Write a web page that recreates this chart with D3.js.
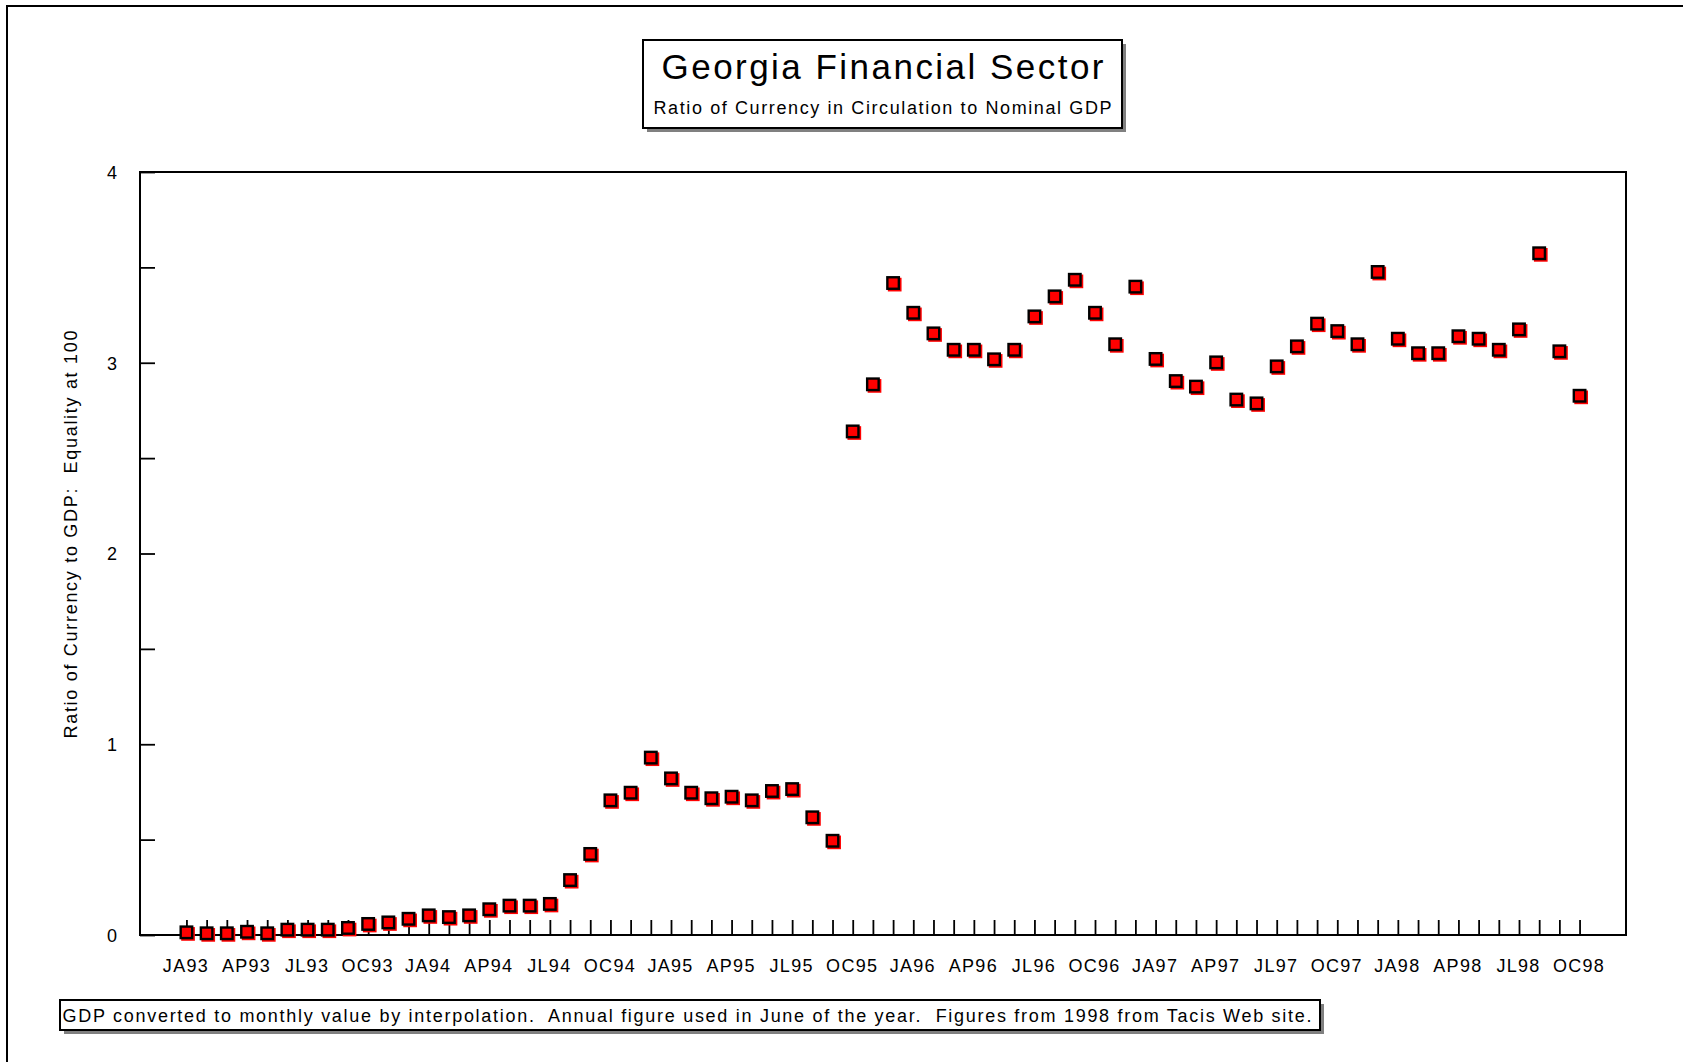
<!DOCTYPE html>
<html>
<head>
<meta charset="utf-8">
<script src="https://cdn.jsdelivr.net/npm/d3@7"></script>
<style>
  html, body { margin: 0; padding: 0; background: #fff; }
  svg { display: block; }
  text { font-family: "Liberation Sans", Arial, Helvetica, sans-serif; fill: #000; }
</style>
</head>
<body>
<svg id="chart" width="1683" height="1062"></svg>
<script>
// ---- data ----
const monthCodes = ["JA","FE","MR","AP","MY","JN","JL","AU","SE","OC","NO","DE"];
const years = ["93","94","95","96","97","98"];
const categories = years.flatMap(y => monthCodes.map(m => m + y)).slice(0, 70); // JA93 .. OC98

const ratioValues = [
  0.014, 0.009, 0.009, 0.017, 0.009, 0.028, 0.028, 0.028, 0.037, 0.058, 0.066, 0.085,
  0.103, 0.094, 0.103, 0.135, 0.154, 0.154, 0.163, 0.288, 0.425, 0.706, 0.746, 0.930,
  0.821, 0.746, 0.717, 0.725, 0.706, 0.755, 0.765, 0.617, 0.494, 2.640, 2.887, 3.418,
  3.262, 3.154, 3.068, 3.068, 3.018, 3.068, 3.243, 3.348, 3.435, 3.262, 3.097, 3.399,
  3.020, 2.904, 2.875, 3.002, 2.807, 2.787, 2.981, 3.086, 3.205, 3.166, 3.097, 3.476,
  3.126, 3.050, 3.050, 3.139, 3.126, 3.068, 3.175, 3.574, 3.060, 2.827
];

const xTickLabels = ["JA93","AP93","JL93","OC93","JA94","AP94","JL94","OC94",
                     "JA95","AP95","JL95","OC95","JA96","AP96","JL96","OC96",
                     "JA97","AP97","JL97","OC97","JA98","AP98","JL98","OC98"];
const yTickValues = [0, 0.5, 1, 1.5, 2, 2.5, 3, 3.5, 4];

const titleText = "Georgia Financial Sector";
const subtitleText = "Ratio of Currency in Circulation to Nominal GDP";
const yAxisTitle = "Ratio of Currency to GDP:  Equality at 100";
const footnoteText = "GDP converted to monthly value by interpolation.  Annual figure used in June of the year.  Figures from 1998 from Tacis Web site.";

// ---- layout ----
const svg = d3.select("#chart");
const plot = { left: 140, top: 172, right: 1626, bottom: 935 };

// outer frame (top and left edges visible)
svg.append("rect")
  .attr("x", 7).attr("y", 6).attr("width", 1720).attr("height", 1100)
  .attr("fill", "none").attr("stroke", "#000").attr("stroke-width", 2);

const x = d3.scalePoint().domain(categories).range([plot.left, plot.right]).padding(2.3);
const y = d3.scaleLinear().domain([0, 4]).range([plot.bottom, plot.top]);

// plot frame
svg.append("rect")
  .attr("x", plot.left).attr("y", plot.top)
  .attr("width", plot.right - plot.left).attr("height", plot.bottom - plot.top)
  .attr("fill", "none").attr("stroke", "#000").attr("stroke-width", 2);

// y axis: ticks pointing inward, labels only on integers
const yAxis = d3.axisLeft(y)
  .tickValues(yTickValues)
  .tickSizeInner(-15).tickSizeOuter(0)
  .tickPadding(23)
  .tickFormat(d => Number.isInteger(d) ? d3.format("d")(d) : "");
const gy = svg.append("g").attr("transform", `translate(${plot.left},0)`).call(yAxis);
gy.select(".domain").remove();
gy.selectAll(".tick line").attr("stroke", "#000").attr("stroke-width", 1.8);
gy.selectAll(".tick text").style("font-size", "18px").attr("dy", "0.36em");

// x axis: monthly ticks pointing inward
const xAxisTicks = d3.axisBottom(x).tickSizeInner(-15).tickSizeOuter(0).tickFormat("");
const gx = svg.append("g").attr("transform", `translate(0,${plot.bottom})`).call(xAxisTicks);
gx.select(".domain").remove();
gx.selectAll(".tick line").attr("stroke", "#000").attr("stroke-width", 1.8);

// x labels every third month
const xAxisLabels = d3.axisBottom(x).tickValues(xTickLabels).tickSize(0).tickPadding(24);
const gxl = svg.append("g").attr("transform", `translate(-1,${plot.bottom})`).call(xAxisLabels);
gxl.select(".domain").remove();
gxl.selectAll(".tick line").remove();
gxl.selectAll(".tick text").style("font-size", "18px").style("letter-spacing", "1.3px");

// y axis title
svg.append("text")
  .attr("transform", "translate(77,534.5) rotate(-90)")
  .attr("text-anchor", "middle")
  .attr("textLength", 408).attr("lengthAdjust", "spacing")
  .style("font-size", "18px").style("white-space", "pre")
  .text(yAxisTitle);

// markers
const mk = svg.append("g");
const size = 11.5;
mk.selectAll("rect.shadow").data(ratioValues).join("rect")
  .attr("class", "shadow")
  .attr("x", (d, i) => x(categories[i]) - size / 2 + 0.5)
  .attr("y", d => y(d) - size / 2 + 0.5)
  .attr("width", size + 2.2).attr("height", size + 2.2)
  .attr("fill", "#ff0000");
mk.selectAll("rect.pt").data(ratioValues).join("rect")
  .attr("class", "pt")
  .attr("x", (d, i) => x(categories[i]) - size / 2)
  .attr("y", d => y(d) - size / 2)
  .attr("width", size).attr("height", size)
  .attr("fill", "#ff0000").attr("stroke", "#000").attr("stroke-width", 2.4);

// title box
const tb = { x: 643, y: 40, w: 479, h: 88 };
svg.append("rect").attr("x", tb.x + 4).attr("y", tb.y + 4).attr("width", tb.w).attr("height", tb.h)
  .attr("fill", "#808080");
svg.append("rect").attr("x", tb.x).attr("y", tb.y).attr("width", tb.w).attr("height", tb.h)
  .attr("fill", "#fff").attr("stroke", "#000").attr("stroke-width", 2);
svg.append("text")
  .attr("x", tb.x + tb.w / 2).attr("y", 79)
  .attr("text-anchor", "middle")
  .attr("textLength", 442).attr("lengthAdjust", "spacing")
  .style("font-size", "35px")
  .text(titleText);
svg.append("text")
  .attr("x", tb.x + tb.w / 2).attr("y", 113.5)
  .attr("text-anchor", "middle")
  .attr("textLength", 458).attr("lengthAdjust", "spacing")
  .style("font-size", "18px")
  .text(subtitleText);

// footnote box
const fb = { x: 60, y: 1000, w: 1260, h: 30 };
svg.append("rect").attr("x", fb.x + 4).attr("y", fb.y + 4).attr("width", fb.w).attr("height", fb.h)
  .attr("fill", "#808080");
svg.append("rect").attr("x", fb.x).attr("y", fb.y).attr("width", fb.w).attr("height", fb.h)
  .attr("fill", "#fff").attr("stroke", "#000").attr("stroke-width", 2);
svg.append("text")
  .attr("x", 62.5).attr("y", 1021.5)
  .attr("textLength", 1249).attr("lengthAdjust", "spacing")
  .style("font-size", "18px").style("white-space", "pre")
  .text(footnoteText);
</script>
</body>
</html>
